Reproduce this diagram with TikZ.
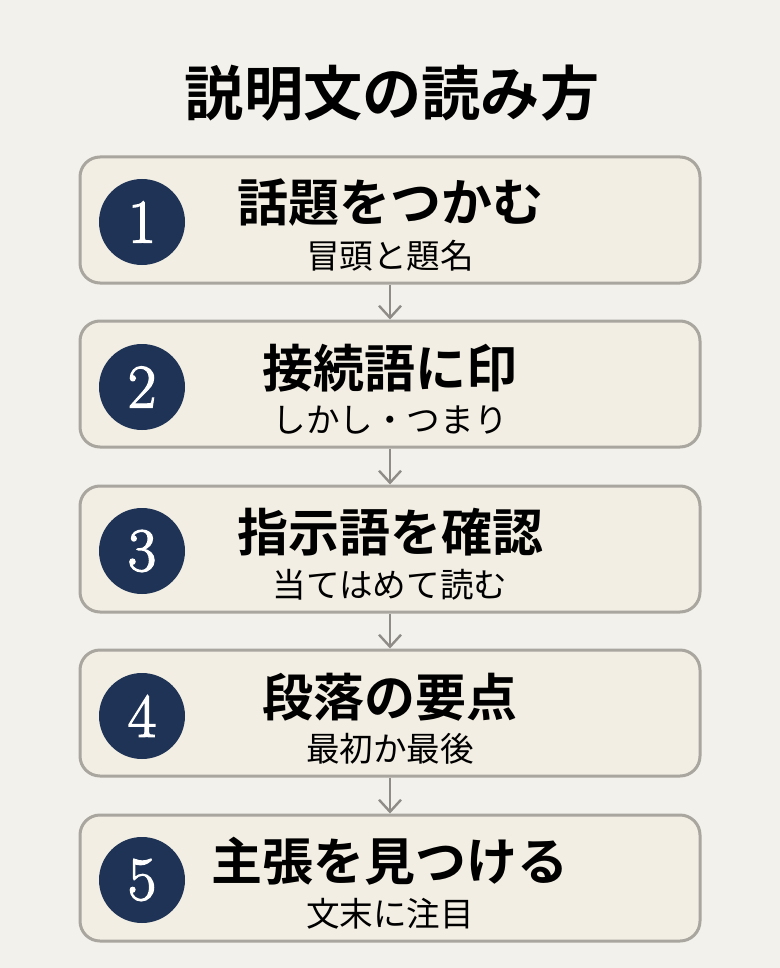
\documentclass[tikz,border=0pt]{standalone}
\usepackage{fontspec}
\newfontfamily\jp{Noto Sans CJK JP}
\newfontfamily\jpbold{Noto Sans CJK JP Bold}
\newfontfamily\numfont[BoldFont={Latin Modern Roman}, BoldFeatures={FakeBold=2}]{Latin Modern Roman}
\usetikzlibrary{arrows.meta,positioning}

\definecolor{paper}{HTML}{F3F1EB}
\definecolor{boxfill}{HTML}{F2EEE4}
\definecolor{boxline}{HTML}{A9A59F}
\definecolor{navy}{HTML}{1E3355}
\definecolor{arrowgray}{HTML}{8F8C87}

\tikzset{
    stepbox/.style={draw=boxline, fill=boxfill, line width=1.5pt, rounded corners=10pt,
        minimum width=310pt, minimum height=63pt},
    numdot/.style={circle, fill=navy, minimum size=43pt, inner sep=0pt, text=white,
        font=\numfont\bfseries\fontsize{31}{31}\selectfont},
    headtext/.style={font=\jpbold\fontsize{25.5}{26}\selectfont, inner sep=0pt},
    subtext/.style={font=\jp\fontsize{16.8}{17}\selectfont, inner sep=0pt},
    flow/.style={draw=arrowgray, line width=1.2pt, -{Straight Barb[length=6pt,width=11pt]}}
}

\begin{document}
\begin{tikzpicture}[x=0.5pt, y=-0.5pt]
    % Page
    \fill[paper] (0,0) rectangle (780,968);
    \useasboundingbox (0,0) rectangle (780,968);

    % Title
    \node[font=\jpbold\fontsize{29.6}{30}\selectfont, inner sep=0pt] (title) at (392,93) {説明文の読み方};

    % Step 1
    \node[stepbox] (s1) at (390,220) {};
    \node[numdot] (n1) at (142,222) {1};
    \node[headtext] (h1) at (390,203) {話題をつかむ};
    \node[subtext] (t1) at (390,256) {冒頭と題名};

    % Step 2
    \node[stepbox] (s2) at (390,384) {};
    \node[numdot] (n2) at (142,387) {2};
    \node[headtext] (h2) at (390,368) {接続語に印};
    \node[subtext] (t2) at (390,420) {しかし・つまり};

    % Step 3
    \node[stepbox] (s3) at (390,549) {};
    \node[numdot] (n3) at (142,551) {3};
    \node[headtext] (h3) at (390,532) {指示語を確認};
    \node[subtext] (t3) at (390,585) {当てはめて読む};

    % Step 4
    \node[stepbox] (s4) at (390,713) {};
    \node[numdot] (n4) at (142,716) {4};
    \node[headtext] (h4) at (390,697) {段落の要点};
    \node[subtext] (t4) at (390,749) {最初か最後};

    % Step 5
    \node[stepbox] (s5) at (390,878) {};
    \node[numdot] (n5) at (142,880) {5};
    \node[headtext] (h5) at (390,861) {主張を見つける};
    \node[subtext] (t5) at (390,914) {文末に注目};

    % Arrows
    \draw[flow] (s1.south) -- (s2.north);
    \draw[flow] (s2.south) -- (s3.north);
    \draw[flow] (s3.south) -- (s4.north);
    \draw[flow] (s4.south) -- (s5.north);
\end{tikzpicture}
\end{document}
